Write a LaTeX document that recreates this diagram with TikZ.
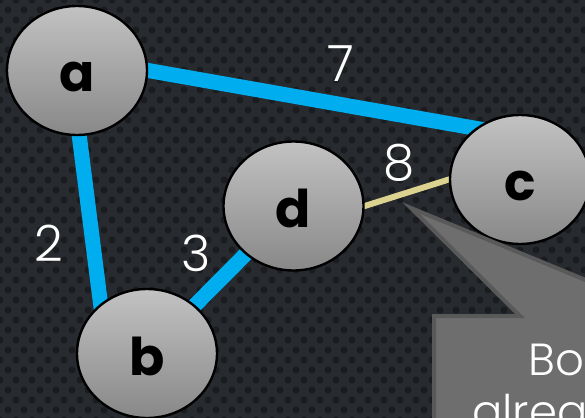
\documentclass[tikz,border=0pt]{standalone}
\usepackage{fontspec}
\setmainfont{Poppins}
\newfontfamily\lightfont{Poppins Light}
\usetikzlibrary{shapes.geometric}
\pgfdeclarelayer{bg}
\pgfdeclarelayer{edges}
\pgfsetlayers{bg,edges,main}
\definecolor{bgc}{HTML}{272A2E}
\definecolor{dotc}{HTML}{1A1C1F}
\definecolor{edgeblue}{HTML}{00AEEF}
\definecolor{edgeyellow}{HTML}{DDD390}
\definecolor{nodetop}{HTML}{C2C2C2}
\definecolor{nodebot}{HTML}{888888}
\definecolor{callfill}{HTML}{6E6E6E}
\definecolor{calldraw}{HTML}{595959}
\tikzset{
  vertex/.style={ellipse, draw=black, line width=2.4pt, top color=nodetop, bottom color=nodebot,
    minimum width=140pt, minimum height=129pt, inner sep=0pt},
  vlabel/.style={anchor=base, inner sep=0pt, font=\fontsize{52}{52}\selectfont\bfseries, text=black},
  weight/.style={inner sep=0pt, font=\lightfont\fontsize{50}{50}\selectfont, text=white},
  calltext/.style={anchor=base west, inner sep=0pt, font=\lightfont\fontsize{45}{45}\selectfont, text=white},
  mstedge/.style={draw=edgeblue, line width=15pt, shorten <=-8pt, shorten >=-8pt},
  otheredge/.style={draw=edgeyellow, line width=6pt, shorten <=-6pt, shorten >=-6pt},
}
\begin{document}
\begin{tikzpicture}[x=1pt,y=-1pt]
\useasboundingbox (0,0) rectangle (585,417);
\begin{pgfonlayer}{bg}
\begin{scope}
\clip (0,0) rectangle (585,417);
\fill[bgc] (-20,-20) rectangle (605,440);
\foreach \r in {0,...,42}{
  \foreach \c in {0,...,37}{
    \pgfmathsetmacro{\xx}{\c*16+mod(\r,2)*8}
    \pgfmathsetmacro{\yy}{\r*10}
    \fill[dotc] (\xx,\yy) circle[radius=3.5pt];
  }
}
\end{scope}
\end{pgfonlayer}

\node[vertex] (a) at (77,70.5) {};
\node[vertex] (c) at (520,179.5) {};
\node[vertex] (d) at (293.5,206) {};
\node[vertex] (b) at (147,353.5) {};

\node[vlabel] (la) at ([yshift=-21.5pt]a.center) {a};
\node[vlabel] (lc) at ([yshift=-21pt]c.center) {c};
\node[vlabel] (ld) at ([yshift=-21pt]d.center) {d};
\node[vlabel] (lb) at ([yshift=-21.5pt]b.center) {b};

\begin{pgfonlayer}{edges}
\draw[mstedge] (a.east) -- (c.131);
\draw[mstedge] (a.-88) -- (b.133);
\draw[mstedge] (b) -- (d);
\draw[otheredge] (d.east) -- (c.west);
\end{pgfonlayer}

\node[weight] (w7) at (341,64) {7};
\node[weight] (w8) at (399,163) {8};
\node[weight] (w2) at (49,243) {2};
\node[weight] (w3) at (196,253) {3};

\begin{scope}
\clip (0,0) rectangle (585,417);
\filldraw[fill=callfill, draw=calldraw, line width=4pt, line join=miter]
  (434,316) -- (520,316) -- (411,208) -- (673,316) -- (720,316) -- (720,520) -- (434,520) -- cycle;
\node[calltext] (t1) at (528,375) {Bo};
\node[calltext] (t2) at (472,427) {alrea};
\end{scope}
\end{tikzpicture}
\end{document}
